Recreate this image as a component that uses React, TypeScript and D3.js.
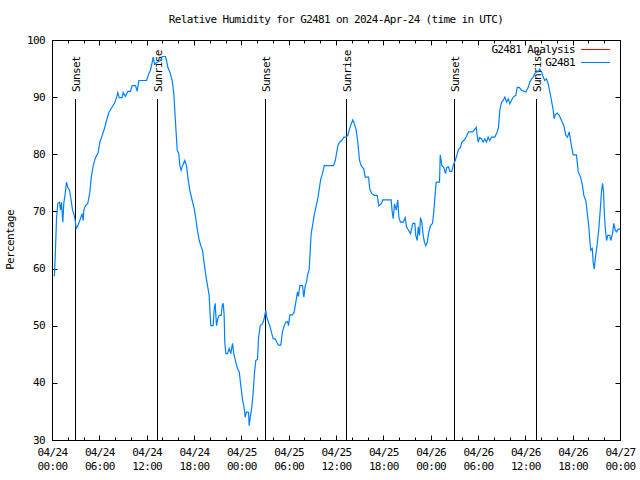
import React from "react";
import * as d3 from "d3";

// Hours since 2024-04-24 00:00 UTC
const hours = [
  0.17, 0.25, 0.38, 0.51, 0.67, 0.89, 1.01, 1.14, 1.31, 1.43, 1.61, 1.77, 1.94, 2.15, 2.37, 2.54, 2.7, 2.88, 3.0, 3.21,
  3.46, 3.76, 3.89, 3.97, 4.18, 4.47, 4.73, 4.91, 5.16, 5.45, 5.79, 6.0, 6.3, 6.59, 6.85, 7.14, 7.44, 7.86, 8.11, 8.28,
  8.46, 8.84, 8.96, 9.25, 9.55, 9.89, 10.1, 10.52, 10.74, 10.94, 11.37, 11.92, 12.21, 12.42, 12.64, 12.76, 12.93, 13.27, 13.69, 13.91,
  14.32, 14.45, 14.62, 14.87, 15.17, 15.38, 15.5, 15.63, 15.81, 16.01, 16.14, 16.31, 16.48, 16.77, 16.99, 17.15, 17.4, 17.71, 17.96, 18.17,
  18.38, 18.6, 18.8, 19.01, 19.23, 19.43, 19.65, 19.86, 19.99, 20.07, 20.37, 20.5, 20.62, 20.79, 20.95, 21.13, 21.38, 21.51, 21.64, 21.76,
  21.84, 21.97, 22.18, 22.4, 22.6, 22.82, 22.98, 23.24, 23.45, 23.67, 23.87, 24.08, 24.3, 24.43, 24.59, 24.85, 24.93, 25.1, 25.26, 25.44,
  25.61, 25.77, 25.99, 26.11, 26.33, 26.62, 26.83, 27.04, 27.16, 27.38, 27.6, 27.8, 27.98, 28.23, 28.43, 28.65, 28.94, 29.15, 29.37, 29.57,
  29.79, 29.92, 30.08, 30.42, 30.64, 30.84, 31.06, 31.18, 31.35, 31.69, 31.86, 32.03, 32.2, 32.32, 32.54, 32.67, 32.79, 32.96, 33.17, 33.38,
  33.59, 33.81, 34.01, 34.23, 34.44, 35.07, 35.62, 35.84, 36.0, 36.17, 36.38, 36.67, 36.93, 37.23, 37.43, 37.65, 37.86, 38.07, 38.28, 38.5,
  38.7, 38.92, 39.13, 39.46, 39.64, 40.06, 40.22, 40.47, 40.82, 41.16, 41.36, 41.67, 41.87, 42.5, 42.93, 43.06, 43.19, 43.35, 43.57, 43.77,
  43.9, 44.11, 44.45, 44.71, 44.87, 45.13, 45.38, 45.67, 45.93, 46.05, 46.23, 46.36, 46.52, 46.65, 46.81, 46.99, 47.15, 47.32, 47.5, 47.7,
  47.92, 48.17, 48.33, 48.51, 48.64, 49.06, 49.15, 49.27, 49.35, 49.6, 49.82, 49.98, 50.2, 50.36, 50.62, 50.79, 51.05, 51.25, 51.47, 51.72,
  51.88, 52.14, 52.44, 52.73, 53.28, 53.49, 53.71, 53.83, 53.96, 54.13, 54.38, 54.59, 54.79, 55.01, 55.22, 55.43, 55.65, 56.07, 56.37, 56.54,
  56.7, 56.92, 57.13, 57.34, 57.55, 57.77, 57.97, 58.18, 58.4, 58.73, 58.91, 59.16, 59.45, 60.0, 60.3, 60.5, 60.72, 60.93, 61.14, 61.35,
  61.57, 61.77, 61.99, 62.2, 62.4, 62.62, 62.83, 63.04, 63.25, 63.47, 63.59, 63.72, 63.98, 64.23, 64.52, 64.82, 65.07, 65.28, 65.5, 65.7,
  66.0, 66.42, 66.64, 66.93, 67.18, 67.35, 67.6, 67.82, 67.99, 68.11, 68.24, 68.42, 68.54, 68.67, 68.83, 69.05, 69.25, 69.43, 69.59, 69.72,
  69.85, 69.97, 70.1, 70.23, 70.39, 70.65, 70.77, 70.99, 71.15, 71.33, 71.49, 71.71, 72.0,
];

// Relative humidity (%) for G2481
const rh = [
  59, 58.9, 63.6, 68.8, 71.5, 71.7, 70.3, 71.7, 68.2, 71.5, 73.2, 75.2, 74.3, 73.8, 72, 70.3, 69.7, 68.5, 67.1, 67.6,
  68.5, 69.7, 68.5, 70.3, 71.1, 71.5, 73.4, 76, 78.1, 79.5, 80.4, 82.2, 83.4, 84.6, 86, 87.4, 88.1, 89, 90, 90.9,
  90, 90, 90.9, 90.2, 91.1, 91.1, 92.1, 92.1, 91.1, 93, 93, 93, 94.2, 94.8, 96.2, 97.1, 95.9, 96.2, 96.5, 97.2,
  97.2, 96.5, 95.3, 94.5, 93, 90.7, 87.8, 84.8, 80.8, 80.2, 78.1, 77.3, 78.1, 79, 78.1, 76.1, 73.8, 72, 70.6, 68.8,
  66.7, 65, 64.1, 63.3, 61, 58.9, 57.1, 55.4, 51.9, 50.1, 50.1, 53.1, 54, 50.1, 51.3, 51.9, 51.9, 53.6, 54, 51.9,
  47.2, 45.2, 45.2, 46.1, 45.2, 47, 45.2, 43.7, 42.6, 42, 39.6, 37.3, 35.6, 34.1, 35, 34.9, 32.6, 34.4, 35.8, 38.5,
  42, 44, 44.2, 47.8, 50.1, 50.4, 51.3, 52.8, 51.6, 50.7, 49.8, 48.7, 47.8, 47.8, 47.2, 46.7, 46.7, 49, 50.1, 50.7,
  50.8, 50.1, 52, 52, 52.5, 54.2, 56, 55.2, 57.1, 57.1, 55.1, 57.1, 57.7, 58.9, 60, 63.3, 66.2, 67.6, 69.4, 70.8,
  72, 74, 75.8, 76.7, 78.1, 78.1, 78.1, 79, 80.2, 81.6, 82.2, 82.5, 83.1, 83.1, 83.4, 84.5, 85.4, 86.1, 85.4, 84.3,
  82.2, 79, 78.1, 77.5, 76.1, 76.1, 74, 73.2, 72.9, 72.9, 71.1, 71.4, 72.1, 72.1, 72.1, 70, 68.8, 71.4, 70.3, 72.1,
  69.1, 68.2, 68.2, 69, 67.4, 66.8, 66.2, 68, 68, 65.9, 65, 67.4, 65.9, 69, 68.2, 65.9, 64.7, 64.1, 64.7, 66.5,
  67.6, 68, 70, 73.2, 75.2, 75.2, 80, 79, 78.1, 77.8, 76.7, 77.8, 77.9, 77.1, 77.1, 78.1, 79, 79.9, 81, 81.3,
  82.2, 82.5, 83.1, 84, 84, 84.4, 84.8, 83.4, 82.2, 83, 82.8, 82.2, 82.8, 82.2, 83.1, 82.5, 83.1, 83.1, 84, 84.8,
  87.8, 89.2, 89.5, 90.1, 89.2, 89.8, 88.9, 89.5, 90.1, 90.4, 91.8, 91.8, 91.3, 91, 91.8, 92.7, 93.3, 93.6, 94.2, 94.5,
  94.5, 95, 94.5, 93.6, 93, 93.3, 92.4, 91, 89.5, 87.8, 86.3, 87, 87.3, 86.9, 86, 85.1, 83.4, 83.1, 84, 82.2,
  80, 80, 77, 76.1, 74.6, 72.9, 72, 69.4, 67.4, 65, 63.3, 63.6, 61.2, 60, 62.1, 64.4, 67, 70.3, 73.5, 75,
  73.5, 69.1, 66.8, 65, 65.9, 65.9, 65, 66.2, 68, 66.8, 66.5, 67, 67,
];

const sunLabels = ["Sunset", "Sunrise", "Sunset", "Sunrise", "Sunset", "Sunrise"];
const sunHours = [2.95, 13.35, 27.04, 37.31, 51.0, 61.39];

const yTicks = [30, 40, 50, 60, 70, 80, 90, 100];
const xTickHours = [0, 6, 12, 18, 24, 30, 36, 42, 48, 54, 60, 66, 72];
const xTickDates = ["04/24", "04/24", "04/24", "04/24", "04/25", "04/25", "04/25", "04/25", "04/26", "04/26", "04/26", "04/26", "04/27"];
const xTickTimes = ["00:00", "06:00", "12:00", "18:00", "00:00", "06:00", "12:00", "18:00", "00:00", "06:00", "12:00", "18:00", "00:00"];

const title = "Relative Humidity for G2481 on 2024-Apr-24 (time in UTC)";
const yLabel = "Percentage";
const legendNames = ["G2481 Analysis", "G2481"];
const legendColors = ["#ff0000", "#0080ff"];

const FONT = "'DejaVu Sans Mono', 'Liberation Mono', monospace";

export default function App() {
  const W = 640;
  const H = 480;
  const left = 52.5, right = 620.5, top = 40.5, bottom = 440.5;
  const x = d3.scaleLinear().domain([0, 72]).range([left, right]);
  const y = d3.scaleLinear().domain([30, 100]).range([bottom, top]);

  const line = d3
    .line<number>()
    .x((_, i) => x(hours[i]))
    .y((d) => y(d));

  const minorHours = d3.range(0, 73, 2);
  const textStyle = { fontFamily: FONT, fontSize: 11, letterSpacing: -0.65 } as const;

  return (
    <svg width={W} height={H} style={{ position: "absolute", left: 0, top: 0, background: "#fff" }}>
      <rect x={0} y={0} width={W} height={H} fill="#fff" />
      <text x={336} y={20} textAnchor="middle" dominantBaseline="middle" style={textStyle} fill="#000">
        {title}
      </text>
      <text
        transform={`translate(11,240) rotate(-90)`}
        textAnchor="middle"
        dominantBaseline="middle"
        style={textStyle}
        fill="#000"
      >
        {yLabel}
      </text>

      {/* y ticks */}
      {yTicks.map((t) => (
        <g key={"y" + t}>
          <line x1={left} x2={left + 5} y1={Math.round(y(t) - 0.5) + 0.5} y2={Math.round(y(t) - 0.5) + 0.5} stroke="#000" />
          <line x1={right} x2={right - 5} y1={Math.round(y(t) - 0.5) + 0.5} y2={Math.round(y(t) - 0.5) + 0.5} stroke="#000" />
          <text x={45} y={y(t)} textAnchor="end" dominantBaseline="middle" style={textStyle} fill="#000">
            {t}
          </text>
        </g>
      ))}

      {/* x minor ticks */}
      {minorHours.map((h) => {
        const px = Math.round(x(h) - 0.5) + 0.5;
        const len = h % 6 === 0 ? 5 : 3;
        return (
          <g key={"xm" + h}>
            <line x1={px} x2={px} y1={bottom} y2={bottom - len} stroke="#000" />
            <line x1={px} x2={px} y1={top} y2={top + len} stroke="#000" />
          </g>
        );
      })}

      {/* x labels */}
      {xTickHours.map((h, i) => (
        <g key={"xl" + i}>
          <text x={x(h)} y={453} textAnchor="middle" dominantBaseline="middle" style={textStyle} fill="#000">
            {xTickDates[i]}
          </text>
          <text x={x(h)} y={467} textAnchor="middle" dominantBaseline="middle" style={textStyle} fill="#000">
            {xTickTimes[i]}
          </text>
        </g>
      ))}

      {/* sunrise / sunset */}
      {sunHours.map((h, i) => {
        const px = Math.round(x(h) - 0.5) + 0.5;
        return (
          <g key={"sun" + i}>
            <line x1={px} x2={px} y1={99} y2={bottom} stroke="#000" />
            <text
              transform={`translate(${px + 1.5},92) rotate(-90)`}
              textAnchor="start"
              dominantBaseline="middle"
              style={textStyle}
              fill="#000"
            >
              {sunLabels[i]}
            </text>
          </g>
        );
      })}

      {/* data */}
      <path d={line(rh) || ""} fill="none" stroke={legendColors[1]} strokeWidth={1.2} />

      {/* legend */}
      {legendNames.map((n, i) => (
        <g key={"lg" + i}>
          <text x={575} y={50 + i * 13} textAnchor="end" dominantBaseline="middle" style={textStyle} fill="#000">
            {n}
          </text>
          <line x1={581} x2={610} y1={49.5 + i * 13} y2={49.5 + i * 13} stroke={legendColors[i]} />
        </g>
      ))}

      {/* border */}
      <rect x={left} y={top} width={right - left} height={bottom - top} fill="none" stroke="#000" />
    </svg>
  );
}
